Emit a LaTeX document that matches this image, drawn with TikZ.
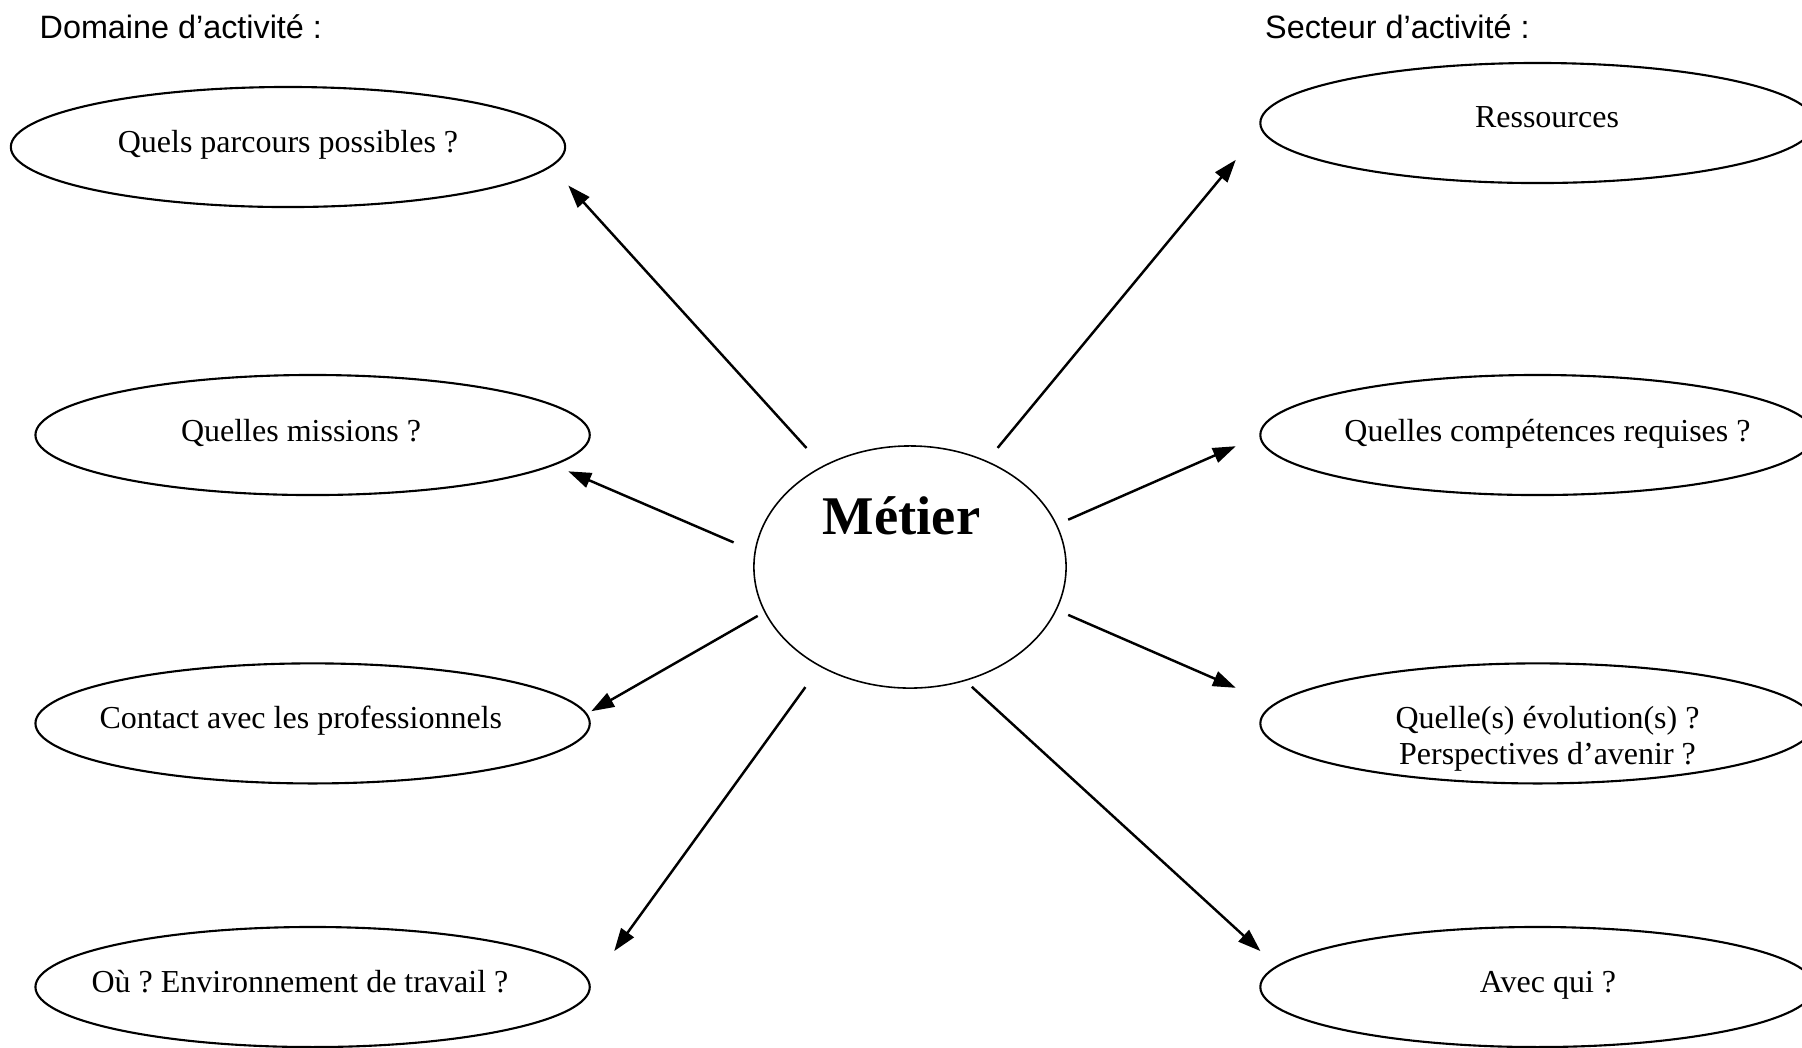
\documentclass[tikz,border=0pt]{standalone}
\usepackage{fontspec}
\setmainfont{Liberation Serif}
\newfontfamily\hdrfont{Liberation Sans}
\usetikzlibrary{arrows.meta,shapes.geometric}
\frenchspacing
\begin{document}
\begin{tikzpicture}[x=0.01cm,y=-0.01cm,
  ell/.style={draw, ellipse, line width=0.6pt, inner sep=0pt, outer sep=0pt,
              minimum width=5.54cm, minimum height=1.2cm},
  core/.style={draw, ellipse, line width=0.45pt, inner sep=0pt, outer sep=0pt,
              minimum width=3.12cm, minimum height=2.42cm},
  lbl/.style={anchor=base, inner sep=0pt, font=\fontsize{9.1pt}{11pt}\selectfont},
  hdr/.style={anchor=base west, inner sep=0pt, font=\hdrfont\fontsize{9.2pt}{11pt}\selectfont},
  big/.style={anchor=base, inner sep=0pt, font=\bfseries\fontsize{15.5pt}{18pt}\selectfont},
  arr/.style={line width=0.7pt, -{Triangle[length=6.5pt,width=4.4pt]}}]
\useasboundingbox (0,0) rectangle (1802,1047);
\clip (0,0) rectangle (1802,1047);
% headers
\node[hdr] (hd1) at (39,38) {Domaine d’activité :};
\node[hdr] (hd2) at (1264.5,38) {Secteur d’activité :};
% central node
\node[core] (metier) at (910,567) {};
\node[big] (metiertxt) at (901.5,534) {Métier};
% left ellipses
\node[ell] (e1) at (288,147) {};
\node[lbl] (l1) at (288,152) {Quels parcours possibles ?};
\node[ell] (e2) at (312.6,435) {};
\node[lbl] (l2) at (301,441) {Quelles missions ?};
\node[ell] (e3) at (312.6,723.4) {};
\node[lbl] (l3) at (300.8,728) {Contact avec les professionnels};
\node[ell] (e4) at (312.6,987) {};
\node[lbl] (l4) at (300,992) {Où ? Environnement de travail ?};
% right ellipses
\node[ell] (e5) at (1537.5,123) {};
\node[lbl] (l5) at (1547,127) {Ressources};
\node[ell] (e6) at (1537.5,435) {};
\node[lbl] (l6) at (1547.5,441) {Quelles compétences requises ?};
\node[ell] (e7) at (1537.5,723.4) {};
\node[lbl] (l7a) at (1547.5,728) {Quelle(s) évolution(s) ?};
\node[lbl] (l7b) at (1547.5,764.6) {Perspectives d’avenir ?};
\node[ell] (e8) at (1537.5,987) {};
\node[lbl] (l8) at (1548,992) {Avec qui ?};
% connector ends
\coordinate (s1) at (806.5,448);   \coordinate (t1) at (568.3,185.5);
\coordinate (s2) at (733.6,542.4); \coordinate (t2) at (568.3,471.3);
\coordinate (s3) at (757.7,615.9); \coordinate (t3) at (591.3,711.2);
\coordinate (s4) at (805.4,687.1); \coordinate (t4) at (614.2,951.1);
\coordinate (s5) at (997.6,447.9); \coordinate (t5) at (1235.8,159.8);
\coordinate (s6) at (1068.2,519.7);\coordinate (t6) at (1235.8,446.2);
\coordinate (s7) at (1068.2,614.9);\coordinate (t7) at (1235.8,687.8);
\coordinate (s8) at (971.8,686.8); \coordinate (t8) at (1260.5,951.1);
\draw[arr] (s1) -- (t1);
\draw[arr] (s2) -- (t2);
\draw[arr] (s3) -- (t3);
\draw[arr] (s4) -- (t4);
\draw[arr] (s5) -- (t5);
\draw[arr] (s6) -- (t6);
\draw[arr] (s7) -- (t7);
\draw[arr] (s8) -- (t8);
\end{tikzpicture}
\end{document}
